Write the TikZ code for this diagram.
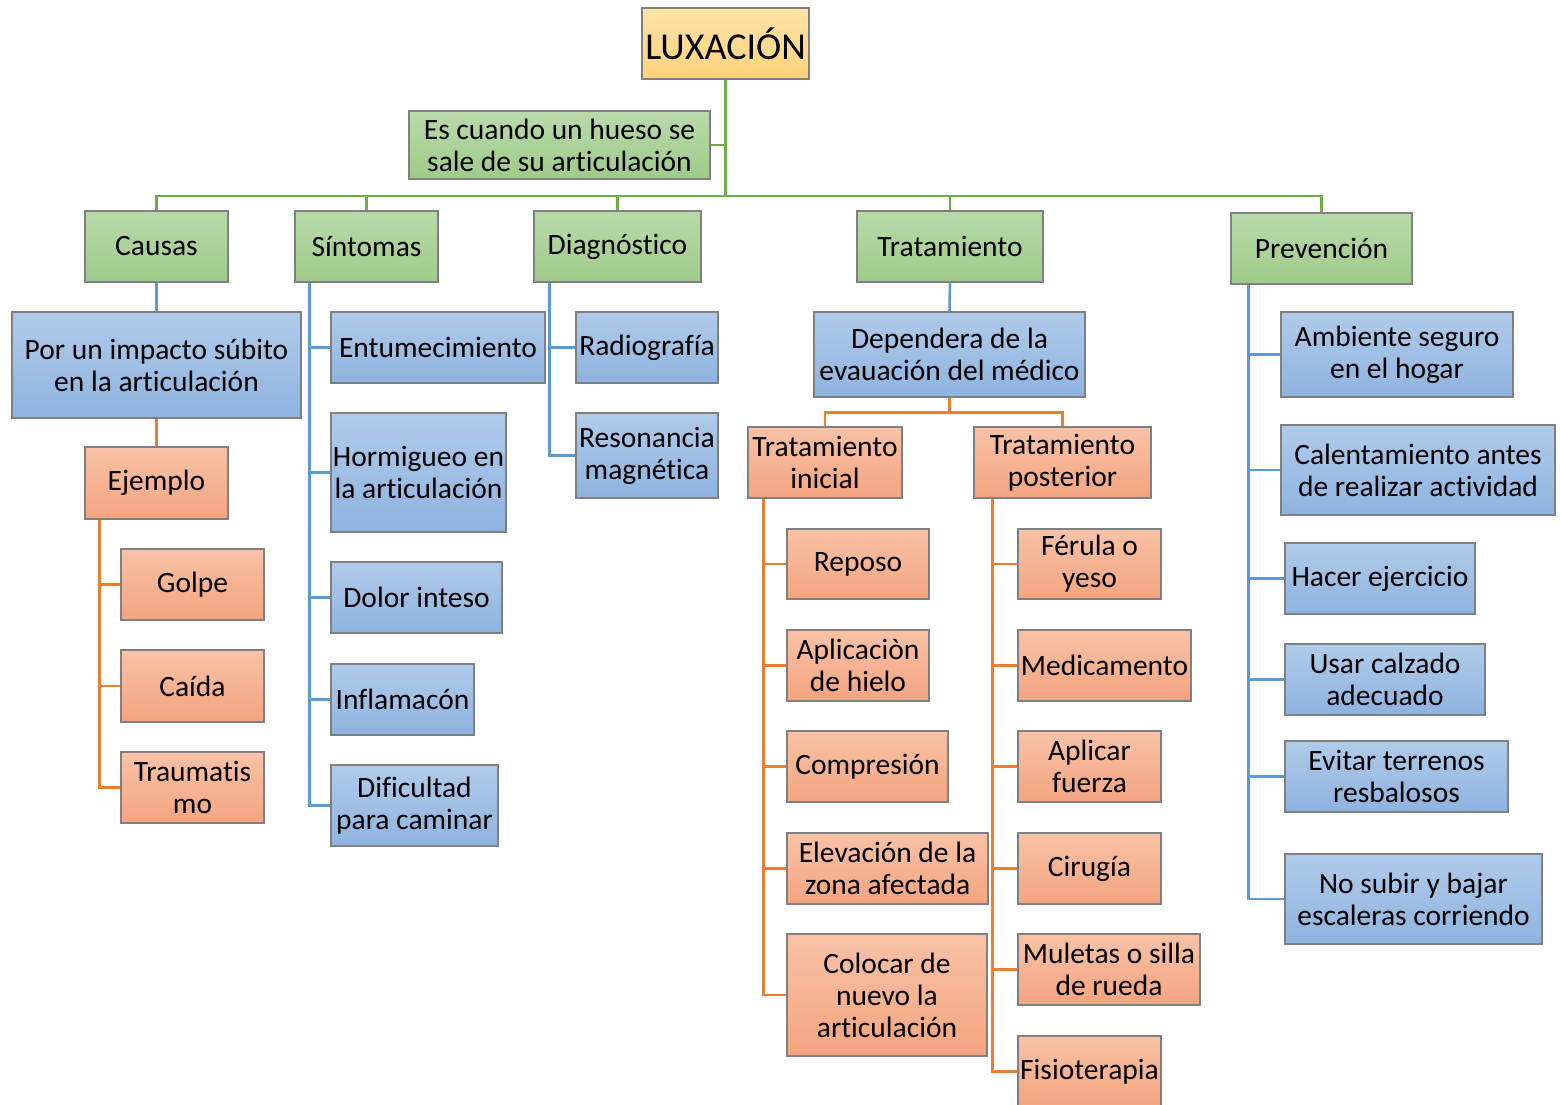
\documentclass[tikz,border=0pt]{standalone}
\usepackage{fontspec}
\setmainfont[Ligatures=CommonOff]{Carlito}
\definecolor{gtop}{HTML}{B9DAAB}
\definecolor{gbot}{HTML}{9ECB89}
\definecolor{btop}{HTML}{B0CBEA}
\definecolor{bbot}{HTML}{8EB3DF}
\definecolor{otop}{HTML}{F8C2A7}
\definecolor{obot}{HTML}{F4A47F}
\definecolor{ytop}{HTML}{FFE3A8}
\definecolor{ybot}{HTML}{FFD27A}
\definecolor{gln}{HTML}{70AD47}
\definecolor{bln}{HTML}{5B9BD5}
\definecolor{oln}{HTML}{ED7D31}
\tikzset{
	box/.style={draw=black!50, line width=1.2pt, align=center, inner sep=1pt,
		font=\fontsize{29.5}{32}\selectfont},
	gbox/.style={box, top color=gtop, bottom color=gbot},
	bbox/.style={box, top color=btop, bottom color=bbot},
	obox/.style={box, top color=otop, bottom color=obot},
	wh/.style 2 args={minimum width=#1pt, minimum height=#2pt},
	gline/.style={gln, line width=2.6pt},
	bline/.style={bln, line width=2.6pt},
	oline/.style={oln, line width=2.6pt}
}
\begin{document}
\begin{tikzpicture}[x=1pt,y=-1pt]
	\useasboundingbox (0,0) rectangle (1560,1105);

	% top
	\node[box, top color=ytop, bottom color=ybot, wh={167}{71}, font=\fontsize{38}{42}\selectfont] (lux) at (725.5,43.5) {LUXACIÓN};
	\node[gbox, wh={301}{68}] (def) at (559.5,145) {Es cuando un hueso se\\sale de su articulación};
	\coordinate (hub) at (725.5,196);
	\draw[gline] (lux.south) -- (hub);
	\draw[gline] (def.east) -- (def.east -| hub);

	\node[gbox, wh={143}{71}] (causas) at (156.5,246.5) {Causas};
	\node[gbox, wh={143}{71}] (sint) at (366.5,246.5) {Síntomas};
	\node[gbox, wh={167}{71}] (diag) at (617.5,246.5) {Diagnóstico};
	\node[gbox, wh={186}{71}] (trat) at (950,246.5) {Tratamiento};
	\node[gbox, wh={181}{71}] (prev) at (1321.5,248.5) {Prevención};
	\foreach \n in {causas,sint,diag,trat,prev}
		\draw[gline] (hub) -| (\n.north);

	% causas
	\node[bbox, wh={289}{106}] (impacto) at (156.5,365) {Por un impacto súbito\\en la articulación};
	\node[obox, wh={143}{72}] (ejemplo) at (156.5,483) {Ejemplo};
	\draw[bline] (causas.south) -- (impacto.north);
	\draw[oline] (impacto.south) -- (ejemplo.north);
	\node[obox, wh={143}{71}] (golpe) at (192.5,584.5) {Golpe};
	\node[obox, wh={143}{72}] (caida) at (192.5,686) {Caída};
	\node[obox, wh={143}{71}] (traum) at (192.5,787.5) {Traumatis\\mo};
	\foreach \n in {golpe,caida,traum}
		\draw[oline] ([xshift=15pt]ejemplo.south west) |- (\n.west);

	% sintomas
	\node[bbox, wh={214}{71}] (entum) at (438,347.5) {Entumecimiento};
	\node[bbox, wh={175}{119}] (hormig) at (418.5,472.5) {Hormigueo en\\la articulación};
	\node[bbox, wh={171}{71}] (dolor) at (416.5,597.5) {Dolor inteso};
	\node[bbox, wh={143}{71}] (inflam) at (402.5,699.5) {Inflamacón};
	\node[bbox, wh={167}{81}] (dific) at (414.5,805.5) {Dificultad\\para caminar};
	\foreach \n in {entum,hormig,dolor,inflam,dific}
		\draw[bline] ([xshift=15pt]sint.south west) |- (\n.west);

	% diagnostico
	\node[bbox, wh={142}{71}] (radio) at (647,347.5) {Radiografía};
	\node[bbox, wh={142}{85}] (reson) at (647,455.5) {Resonancia\\magnética};
	\foreach \n in {radio,reson}
		\draw[bline] ([xshift=16pt]diag.south west) |- (\n.west);

	% tratamiento
	\node[bbox, wh={271}{85}] (depend) at (949.5,354.5) {Dependera de la\\evauación del médico};
	\draw[bline] (trat.south) -- (depend.north);
	\node[obox, wh={154}{71}] (tini) at (825,462.5) {Tratamiento\\inicial};
	\node[obox, wh={177}{71}] (tpos) at (1062.5,462.5) {Tratamiento\\posterior};
	\coordinate (split) at ([yshift=-15pt]depend.south);
	\draw[oline] (depend.south) -- (split);
	\draw[oline] (split) -| (tini.north);
	\draw[oline] (split) -| (tpos.north);

	\node[obox, wh={142}{70}] (reposo) at (858,564) {Reposo};
	\node[obox, wh={142}{71}] (hielo) at (858,665.5) {Aplicaciòn\\de hielo};
	\node[obox, wh={161}{71}] (compr) at (867.5,766.5) {Compresión};
	\node[obox, wh={201}{71}] (elev) at (887.5,868.5) {Elevación de la\\zona afectada};
	\node[obox, wh={200}{122}] (coloc) at (887,995) {Colocar de\\nuevo la\\articulación};
	\foreach \n in {reposo,hielo,compr,elev,coloc}
		\draw[oline] ([xshift=16pt]tini.south west) |- (\n.west);

	\node[obox, wh={143}{70}] (ferula) at (1089.5,564) {Férula o\\yeso};
	\node[obox, wh={173}{71}] (medic) at (1104.5,665.5) {Medicamento};
	\node[obox, wh={143}{71}] (fuerza) at (1089.5,766.5) {Aplicar\\fuerza};
	\node[obox, wh={143}{71}] (cirug) at (1089.5,868.5) {Cirugía};
	\node[obox, wh={182}{71}] (muletas) at (1109,969.5) {Muletas o silla\\de rueda};
	\node[obox, wh={143}{71}] (fisio) at (1089.5,1071.5) {Fisioterapia};
	\foreach \n in {ferula,medic,fuerza,cirug,muletas,fisio}
		\draw[oline] ([xshift=19pt]tpos.south west) |- (\n.west);

	% prevencion
	\node[bbox, wh={232}{85}] (amb) at (1397,354.5) {Ambiente seguro\\en el hogar};
	\node[bbox, wh={274}{90}] (calent) at (1418,470) {Calentamiento antes\\de realizar actividad};
	\node[bbox, wh={190}{71}] (hacer) at (1380,578.5) {Hacer ejercicio};
	\node[bbox, wh={200}{71}] (calzado) at (1385,679.5) {Usar calzado\\adecuado};
	\node[bbox, wh={223}{71}] (evitar) at (1396.5,776.5) {Evitar terrenos\\resbalosos};
	\node[bbox, wh={257}{90}] (nosubir) at (1413.5,899) {No subir y bajar\\escaleras corriendo};
	\foreach \n in {amb,calent,hacer,calzado,evitar,nosubir}
		\draw[bline] ([xshift=18pt]prev.south west) |- (\n.west);
\end{tikzpicture}
\end{document}
